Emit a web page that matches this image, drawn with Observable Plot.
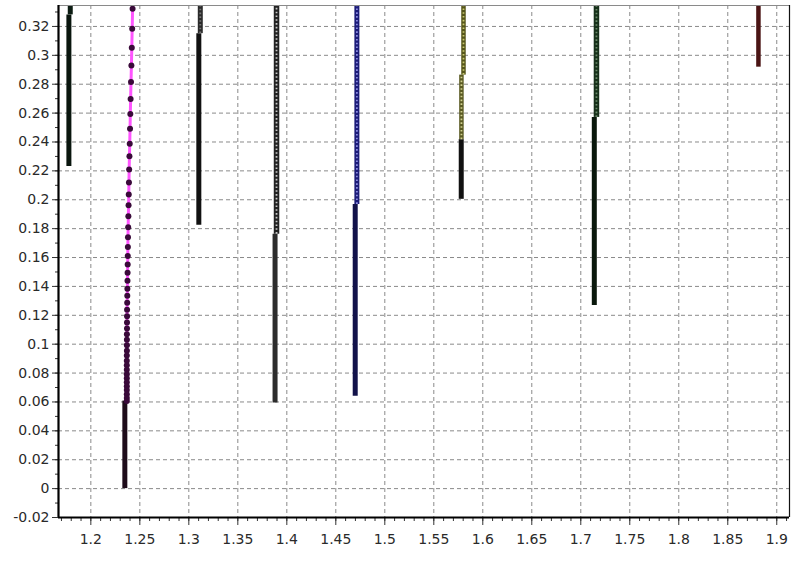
<!DOCTYPE html>
<html>
<head>
<meta charset="utf-8">
<script src="https://cdn.jsdelivr.net/npm/d3@7"></script>
<script src="https://cdn.jsdelivr.net/npm/@observablehq/plot@0.6"></script>
<style>
  html, body { margin: 0; padding: 0; background: #fff; }
  svg { display: block; }
</style>
</head>
<body>
<div id="chart"></div>
<script>
// ---- Data ----
const xTicks = [1.2, 1.25, 1.3, 1.35, 1.4, 1.45, 1.5, 1.55, 1.6, 1.65, 1.7, 1.75, 1.8, 1.85, 1.9];
const yTicks = [-0.02, 0, 0.02, 0.04, 0.06, 0.08, 0.1, 0.12, 0.14, 0.16, 0.18, 0.2, 0.22, 0.24, 0.26, 0.28, 0.3, 0.32];

// Marker (upper) segments of each series
const upperSeries = ["S1", "S3", "S4", "S5", "S6", "S6b", "S7", "S8"];
const upperX      = [1.179, 1.3117, 1.3895, 1.4715, 1.5803, 1.5782, 1.7160, 1.8813];
const upperFrom   = [0.328, 0.315, 0.1762, 0.1968, 0.2863, 0.2416, 0.2570, 0.2918];
const upperTo     = [0.334, 0.334, 0.334, 0.334, 0.334, 0.2863, 0.334, 0.334];

// Dense (lower, solid-looking) segments of each series
const lowerSeries = ["S1", "S2", "S3", "S4", "S5", "S6", "S7"];
const lowerX      = [1.1776, 1.2347, 1.3102, 1.3880, 1.4698, 1.5780, 1.7138];
const lowerFrom   = [0.223, 0.0, 0.1824, 0.0592, 0.064, 0.2003, 0.1267];
const lowerTo     = [0.328, 0.0606, 0.315, 0.1762, 0.1968, 0.2416, 0.2570];

// Series S2 (magenta line with dots)
const s2Y = [0.3322, 0.3184, 0.3053, 0.2930, 0.2815, 0.2698, 0.2594, 0.2491, 0.2388, 0.2301,
             0.2209, 0.2120, 0.2037, 0.1962, 0.1886, 0.1810, 0.1741, 0.1673, 0.1611, 0.1552,
             0.1494, 0.1439, 0.1384, 0.1335, 0.1287, 0.1239, 0.1194, 0.1150, 0.1108, 0.1069,
             0.1031, 0.0992, 0.0955, 0.0921, 0.0886, 0.0854, 0.0823, 0.0792, 0.0764, 0.0737,
             0.0709, 0.0682, 0.0654, 0.0627, 0.0606];
const s2X = [1.2426, 1.2422, 1.2418, 1.2414, 1.2410, 1.2406, 1.2403, 1.2400, 1.2397, 1.2394,
             1.2391, 1.2389, 1.2387, 1.2385, 1.2383, 1.2381, 1.2379, 1.2378, 1.2377, 1.2376,
             1.2375, 1.2374, 1.2373, 1.2372, 1.2371, 1.2370, 1.2370, 1.2369, 1.2369, 1.2368,
             1.2368, 1.2368, 1.2368, 1.2367, 1.2367, 1.2367, 1.2367, 1.2367, 1.2367, 1.2367,
             1.2367, 1.2367, 1.2367, 1.2367, 1.2367];

// ---- Styles ----
const upperStyle = {
  S1:  {stroke: "#0c1c12", w: 5, bead: null},
  S3:  {stroke: "#2a2a2a", w: 5, bead: "#777"},
  S4:  {stroke: "#222222", w: 5.5, bead: "#c8c8c8"},
  S5:  {stroke: "#1c1c78", w: 5, bead: "#8a8ae0"},
  S6:  {stroke: "#55551a", w: 4.5, bead: "#c8c870"},
  S6b: {stroke: "#5a5a22", w: 4.5, bead: "#d0d090"},
  S7:  {stroke: "#17301a", w: 5.5, bead: "#6a8a6a"},
  S8:  {stroke: "#4a1414", w: 4.5, bead: null}
};
const lowerStyle = {
  S1: "#0a160e", S2: "#1e0c1a", S3: "#111111", S4: "#2c2c2c",
  S5: "#12124a", S6: "#111111", S7: "#0a180c"
};

const upper = upperSeries.map((s, i) => ({s, x: upperX[i], y1: upperFrom[i], y2: upperTo[i]}));
const lower = lowerSeries.map((s, i) => ({s, x: lowerX[i], y1: lowerFrom[i], y2: lowerTo[i]}));
const s2 = s2Y.map((y, i) => ({x: s2X[i], y}));

const xDomain = [1.167, 1.913];
const yDomain = [-0.02, 0.3345];
const xMinor = d3.range(117, 192, 1).map(d => d / 100).filter(d => d >= xDomain[0] && d <= xDomain[1]);
const yMinor = d3.range(-2, 34, 1).map(d => d / 100);

const font = "DejaVu Sans, Verdana, sans-serif";

const chart = Plot.plot({
  width: 799,
  height: 563,
  marginLeft: 58,
  marginRight: 10,
  marginTop: 5,
  marginBottom: 46,
  style: {fontFamily: font, fontSize: "14px", color: "#2a2a2a", background: "#fff"},
  x: {domain: xDomain},
  y: {domain: yDomain},
  color: {type: "identity"},
  marks: [
    Plot.gridX(xTicks, {stroke: "#8a8a8a", strokeOpacity: 1, strokeDasharray: "4,3"}),
    Plot.gridY(yTicks, {stroke: "#8a8a8a", strokeOpacity: 1, strokeDasharray: "4,3"}),
    Plot.axisX(xMinor, {tickSize: 4, text: null, label: null, stroke: "#333"}),
    Plot.axisX(xTicks, {tickSize: 8, tickPadding: 9, tickFormat: d => String(d), label: null, fontSize: 14, fill: "#2a2a2a", stroke: "#333"}),
    Plot.axisY(yMinor, {tickSize: 3, text: null, label: null, stroke: "#333"}),
    Plot.axisY(yTicks, {tickSize: 6, tickPadding: 3, tickFormat: d => String(d), label: null, fontSize: 14, fill: "#2a2a2a", stroke: "#333"}),
    // lower dense segments
    Plot.ruleX(lower, {x: "x", y1: "y1", y2: "y2", stroke: d => lowerStyle[d.s], strokeWidth: 5}),
    // upper marker segments
    Plot.ruleX(upper, {x: "x", y1: "y1", y2: "y2", stroke: d => upperStyle[d.s].stroke, strokeWidth: d => upperStyle[d.s].w}),
    Plot.ruleX(upper.filter(d => upperStyle[d.s].bead), {x: "x", y1: "y1", y2: "y2", stroke: d => upperStyle[d.s].bead, strokeWidth: 1.8, strokeDasharray: "1.6,2.2"}),
    // S2 magenta line with dots
    Plot.line(s2, {x: "x", y: "y", stroke: "#ff55ff", strokeWidth: 3}),
    Plot.dot(s2, {x: "x", y: "y", r: 3, fill: "#3a0a3a", stroke: "none"}),
    // frame
    Plot.ruleY([yDomain[1]], {stroke: "#8a8a8a", strokeWidth: 1.2}),
    Plot.ruleX([xDomain[1]], {stroke: "#111", strokeWidth: 1.2}),
    Plot.ruleY([yDomain[0]], {stroke: "#000", strokeWidth: 2.2}),
    Plot.ruleX([xDomain[0]], {stroke: "#000", strokeWidth: 2.2})
  ]
});
document.getElementById("chart").appendChild(chart);
</script>
</body>
</html>
